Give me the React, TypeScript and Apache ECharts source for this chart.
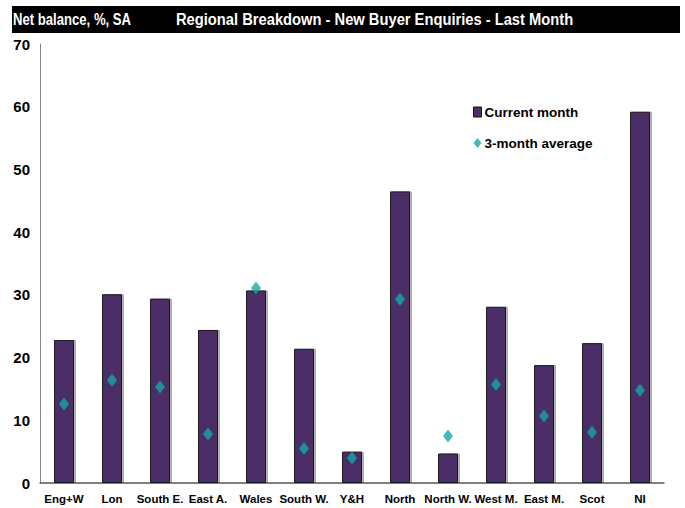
import React, { useEffect, useRef } from "react";
import * as echarts from "echarts";

const categories = ["Eng+W", "Lon", "South E.", "East A.", "Wales", "South W.", "Y&H", "North", "North W.", "West M.", "East M.", "Scot", "NI"];
const currentMonth = [22.8, 30.1, 29.4, 24.4, 30.7, 21.4, 5.0, 46.5, 4.7, 28.1, 18.8, 22.3, 59.2];
const threeMonthAvg = [12.6, 16.4, 15.3, 7.8, 31.1, 5.5, 4.0, 29.3, 7.5, 15.7, 10.7, 8.1, 14.8];
const yTicks = { min: 0, max: 70, interval: 10 };

const FONT = "'Liberation Sans', Arial, sans-serif";

export default function App() {
  const ref = useRef<HTMLDivElement>(null);
  useEffect(() => {
    if (!ref.current) return;
    const chart = echarts.init(ref.current, undefined, { renderer: "svg" });
    chart.setOption({
      animation: false,
      backgroundColor: "#ffffff",
      grid: { left: 40, right: 21, top: 44, bottom: 25, containLabel: false },
      graphic: [
        { type: "rect", x: 12, y: 6, shape: { width: 668, height: 27 }, style: { fill: "#000000" }, z: 0 },
        {
          type: "text", x: 13, y: 19.5, scaleX: 0.82,
          style: { text: "Net balance, %, SA", fill: "#ffffff", font: `bold 16px ${FONT}`, verticalAlign: "middle" }, z: 1,
        },
        {
          type: "text", x: 176, y: 19.5, scaleX: 0.92,
          style: { text: "Regional Breakdown - New Buyer Enquiries - Last Month", fill: "#ffffff", font: `bold 16px ${FONT}`, verticalAlign: "middle" }, z: 1,
        },
      ],
      legend: {
        orient: "vertical",
        left: 473,
        top: 105,
        padding: 0,
        itemGap: 17,
        itemWidth: 8,
        itemHeight: 10,
        textStyle: { fontFamily: FONT, fontWeight: "bold", fontSize: 13.5, color: "#000", padding: [0, 0, 0, -2] },
        data: [
          { name: "Current month", icon: "rect", itemStyle: { borderColor: "#111", borderWidth: 1 } },
          { name: "3-month average", icon: "diamond" },
        ],
      },
      xAxis: {
        type: "category",
        data: categories,
        axisLine: { lineStyle: { color: "#555", width: 1.5 } },
        axisTick: { show: false },
        axisLabel: { color: "#000", fontFamily: FONT, fontWeight: "bold", fontSize: 11.5, margin: 10, interval: 0 },
      },
      yAxis: {
        type: "value",
        min: yTicks.min,
        max: yTicks.max,
        interval: yTicks.interval,
        axisLine: { show: true, lineStyle: { color: "#888", width: 1 } },
        axisTick: { show: false },
        splitLine: { show: false },
        axisLabel: { color: "#000", fontFamily: FONT, fontWeight: "bold", fontSize: 15, margin: 10 },
      },
      series: [
        {
          name: "Current month",
          type: "bar",
          data: currentMonth,
          barWidth: 20,
          itemStyle: {
            color: "#4b2f68",
            borderColor: "#1a1a1a",
            borderWidth: 1,
            shadowColor: "rgba(0,0,0,0.3)",
            shadowOffsetX: 2,
            shadowOffsetY: 0,
            shadowBlur: 0,
          },
          z: 2,
        },
        {
          name: "3-month average",
          type: "scatter",
          data: threeMonthAvg,
          symbol: "diamond",
          symbolSize: [10, 13],
          itemStyle: { color: "#14a9a2" },
          z: 3,
        },
      ],
    });
    return () => chart.dispose();
  }, []);
  return <div ref={ref} style={{ width: 685, height: 508, position: "absolute", left: 0, top: 0 }} />;
}
